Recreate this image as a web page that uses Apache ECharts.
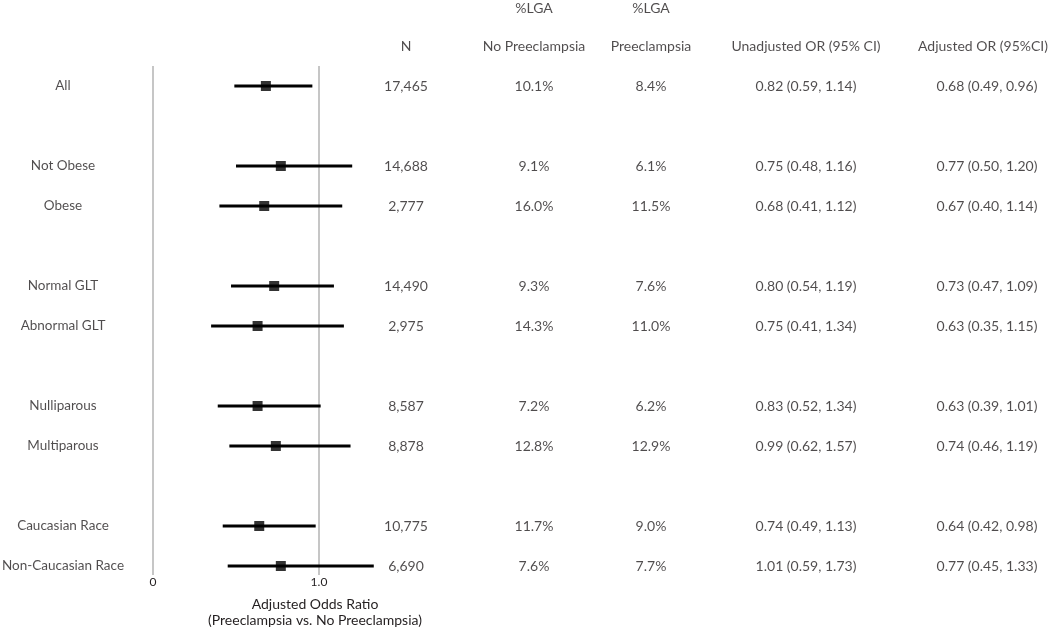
<!DOCTYPE html>
<html><head><meta charset="utf-8">
<script src="https://cdn.jsdelivr.net/npm/echarts@6/dist/echarts.min.js"></script>
<style>html,body{margin:0;padding:0;background:#fff}#c{width:1050px;height:630px}</style>
</head><body><div id="c"></div>
<script>
// ---- data ----
const labels = ["All","Not Obese","Obese","Normal GLT","Abnormal GLT","Nulliparous","Multiparous","Caucasian Race","Non-Caucasian Race"];
const rowSlots = [0,2,3,5,6,8,9,11,12];
const nText = ["17,465","14,688","2,777","14,490","2,975","8,587","8,878","10,775","6,690"];
const lgaNoPre = ["10.1%","9.1%","16.0%","9.3%","14.3%","7.2%","12.8%","11.7%","7.6%"];
const lgaPre = ["8.4%","6.1%","11.5%","7.6%","11.0%","6.2%","12.9%","9.0%","7.7%"];
const unadjText = ["0.82 (0.59, 1.14)","0.75 (0.48, 1.16)","0.68 (0.41, 1.12)","0.80 (0.54, 1.19)","0.75 (0.41, 1.34)","0.83 (0.52, 1.34)","0.99 (0.62, 1.57)","0.74 (0.49, 1.13)","1.01 (0.59, 1.73)"];
const adjOR = [0.68,0.77,0.67,0.73,0.63,0.63,0.74,0.64,0.77];
const adjLo = [0.49,0.50,0.40,0.47,0.35,0.39,0.46,0.42,0.45];
const adjHi = [0.96,1.20,1.14,1.09,1.15,1.01,1.19,0.98,1.33];
const headerTop = ["%LGA","%LGA"];
const headerMain = ["N","No Preeclampsia","Preeclampsia","Unadjusted OR (95% CI)","Adjusted OR (95%CI)"];
const xTickLabels = {0:"0",1:"1.0"};
const axisTitle = "Adjusted Odds Ratio\n(Preeclampsia vs. No Preeclampsia)";

// ---- layout (positions, not data) ----
const colX = {label:63, n:406, noPre:534, pre:651, unadj:806, adj:987};
const headerTopX = [534, 651];
const headerMainX = [406, 534, 651, 806, 983];
const FONT = "Lato";
const TXT = "#231f20";

const adjText = adjOR.map((v,i)=>`${v.toFixed(2)} (${adjLo[i].toFixed(2)}, ${adjHi[i].toFixed(2)})`);

function textSeries(xs, arr, slots, size){
  return {
    type:'scatter', xAxisIndex:1, yAxisIndex:1, symbolSize:0, clip:false, silent:true,
    data: arr.map((t,i)=>({value:[Array.isArray(xs)?xs[i]:xs, Array.isArray(slots)?slots[i]:slots], name:t})),
    label:{show:true, position:'inside', formatter:p=>p.name, color:TXT, fontFamily:FONT, fontSize:size||14},
    emphasis:{disabled:true}
  };
}

const chart = echarts.init(document.getElementById('c'), null, {renderer:'canvas'});
chart.setOption({
  animation:false,
  grid:[
    {left:153, width:1.4*166, top:66, height:509},
    {left:0, right:0, top:6, height:580}
  ],
  xAxis:[
    {type:'value', gridIndex:0, min:0, max:1.4, interval:1,
     axisLine:{show:false}, axisTick:{show:false},
     splitLine:{show:true, showMaxLine:false, lineStyle:{color:'#b3b3b3', width:1.5}},
     axisLabel:{color:TXT, fontFamily:FONT, fontSize:12, margin:1, formatter:v=>xTickLabels[v]!==undefined?xTickLabels[v]:''}},
    {type:'value', gridIndex:1, min:0, max:1050, show:false}
  ],
  yAxis:[
    {type:'value', gridIndex:0, inverse:true, min:-0.5, max:12.225, show:false},
    {type:'value', gridIndex:1, inverse:true, min:-2, max:12.5, show:false}
  ],
  title:{text:axisTitle, left:310, top:591, textAlign:'center',
    textStyle:{color:TXT, fontFamily:FONT, fontSize:14, fontWeight:'normal', lineHeight:16}},
  series:[
    {
      type:'custom', xAxisIndex:0, yAxisIndex:0, silent:true,
      data: adjOR.map((v,i)=>[adjLo[i], adjHi[i], rowSlots[i]]),
      renderItem:(params, api)=>{
        const a = api.coord([api.value(0), api.value(2)]);
        const b = api.coord([api.value(1), api.value(2)]);
        return {type:'line', shape:{x1:a[0], y1:a[1], x2:b[0], y2:b[1]},
          style:{stroke:'#000', lineWidth:3}};
      }
    },
    {
      type:'scatter', xAxisIndex:0, yAxisIndex:0, symbol:'rect', symbolSize:10, silent:true,
      itemStyle:{color:'#000'},
      data: adjOR.map((v,i)=>[v, rowSlots[i]])
    },
    textSeries(colX.label, labels, rowSlots, 13.5),
    textSeries(colX.n, nText, rowSlots),
    textSeries(colX.noPre, lgaNoPre, rowSlots),
    textSeries(colX.pre, lgaPre, rowSlots),
    textSeries(colX.unadj, unadjText, rowSlots),
    textSeries(colX.adj, adjText, rowSlots),
    textSeries(headerTopX, headerTop, -1.95),
    textSeries(headerMainX, headerMain, -1)
  ]
});
</script></body></html>
